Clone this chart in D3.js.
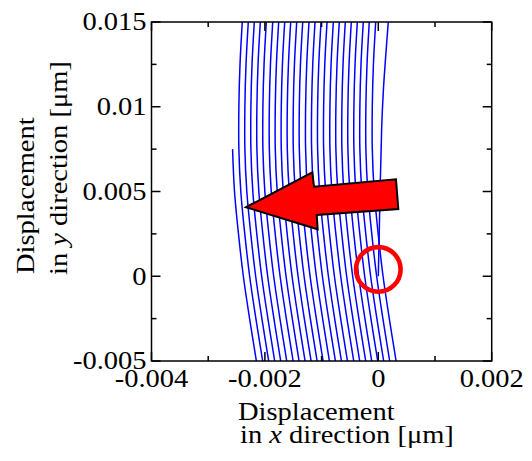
<!DOCTYPE html>
<html>
<head>
<meta charset="utf-8">
<script src="https://cdn.jsdelivr.net/npm/d3@7"></script>
<style>
  body{margin:0;background:#fff;}
  svg{display:block;}
  text{font-family:"Liberation Serif","Times New Roman",serif;fill:#000;}
</style>
</head>
<body>
<svg id="chart" width="532" height="461"></svg>
<script>
// axis ticks
var xTicks = [-0.004, -0.002, 0, 0.002];
var xTickLabels = ["-0.004", "-0.002", "0", "0.002"];
var xMinor = [-0.003, -0.001, 0.001];
var yTicks = [-0.005, 0, 0.005, 0.01, 0.015];
var yTickLabels = ["-0.005", "0", "0.005", "0.01", "0.015"];
var yMinor = [-0.0025, 0.0025, 0.0075, 0.0125];

// shape shared by the blue lines (x shift against y)
var profileY  = [0.015, 0.0125, 0.01, 0.0075, 0.005, 0.0025, 0, -0.0025, -0.005];
var profileDx = [0, -0.00004, -0.00006, -0.00006, -0.000026, 0.000044, 0.00013, 0.00024, 0.00036];

// x of each full line where it meets y = 0.015
var lineTopX = [-0.002399, -0.002293, -0.002187, -0.002081, -0.001975, -0.001862,
                -0.001757, -0.001651, -0.001545, -0.001439, -0.001333, -0.001222,
                -0.001116, -0.001010, -0.000904, -0.000793, -0.000688, -0.000582,
                -0.000476, -0.000370, -0.000265, -0.000159, -0.000046];

// leftmost line only starts at y = 0.0075
var partialTopX = -0.00251;
var partialFromY = 0.0075;

// line that ends at the origin
var startLineX = [0.000176, 0.00012, 0.00009, 0.00006, 0.0000176, 0];
var startLineY = [0.015, 0.0125, 0.011, 0.0088, 0.0027, 0];

// annotations (data coordinates)
var arrowX = [-0.002333, -0.001164, -0.001134, 0.000312, 0.000353, -0.001086, -0.001069];
var arrowY = [0.004071, 0.006136, 0.005286, 0.005723, 0.003968, 0.003614, 0.002770];
var circleCenter = [0, 0.0004];

var svg = d3.select("#chart");
var x = d3.scaleLinear().domain([-0.004, 0.002]).range([151.5, 491.7]);
var y = d3.scaleLinear().domain([-0.005, 0.015]).range([361, 22]);
var stretch = 1.14;   // glyphs in the picture are wider than Times

svg.append("clipPath").attr("id", "plotclip")
   .append("rect").attr("x", x(-0.004)).attr("y", y(0.015))
   .attr("width", x(0.002) - x(-0.004)).attr("height", y(-0.005) - y(0.015));

var plot = svg.append("g").attr("clip-path", "url(#plotclip)");

var line = d3.line()
    .x(function(d){ return x(d[0]); })
    .y(function(d){ return y(d[1]); })
    .curve(d3.curveCatmullRom);

var lines = lineTopX.map(function(x0){
    return profileY.map(function(yy, i){ return [x0 + profileDx[i], yy]; });
});
lines.push(profileY.map(function(yy, i){ return [partialTopX + profileDx[i], yy]; })
                   .filter(function(d){ return d[1] <= partialFromY; }));
lines.push(startLineY.map(function(yy, i){ return [startLineX[i], yy]; }));

plot.selectAll(".traj").data(lines).enter().append("path")
    .attr("class", "traj")
    .attr("d", line)
    .attr("fill", "none")
    .attr("stroke", "#0000ff")
    .attr("stroke-width", 1.5);

// ticks, drawn inward on all four sides
function ticks(vals, len){
    vals.forEach(function(v){
        svg.append("line").attr("x1", x(v)).attr("x2", x(v)).attr("y1", y(-0.005)).attr("y2", y(-0.005) - len);
        svg.append("line").attr("x1", x(v)).attr("x2", x(v)).attr("y1", y(0.015)).attr("y2", y(0.015) + len);
    });
}
function yticks(vals, len){
    vals.forEach(function(v){
        svg.append("line").attr("y1", y(v)).attr("y2", y(v)).attr("x1", x(-0.004)).attr("x2", x(-0.004) + len);
        svg.append("line").attr("y1", y(v)).attr("y2", y(v)).attr("x1", x(0.002)).attr("x2", x(0.002) - len);
    });
}
ticks(xTicks, 9); ticks(xMinor, 5);
yticks(yTicks, 9); yticks(yMinor, 5);
svg.selectAll("line").attr("stroke", "#000").attr("stroke-width", 1.5);

svg.append("rect")
   .attr("x", x(-0.004)).attr("y", y(0.015))
   .attr("width", x(0.002) - x(-0.004)).attr("height", y(-0.005) - y(0.015))
   .attr("fill", "none").attr("stroke", "#000").attr("stroke-width", 1.5);

// annotations
svg.append("polygon")
   .attr("points", arrowX.map(function(v, i){ return x(v) + "," + y(arrowY[i]); }).join(" "))
   .attr("fill", "#ff0000").attr("stroke", "#000").attr("stroke-width", 2)
   .attr("stroke-linejoin", "miter");

svg.append("circle")
   .attr("cx", x(circleCenter[0])).attr("cy", y(circleCenter[1])).attr("r", 22.3)
   .attr("fill", "none").attr("stroke", "#ff0000").attr("stroke-width", 4.6);

// text helper: stretched serif text
function label(tx, ty, rot, anchor){
    return svg.append("text")
        .attr("transform", "translate(" + tx + "," + ty + ")" + (rot ? " rotate(" + rot + ")" : "") + " scale(" + stretch + ",1)")
        .attr("text-anchor", anchor)
        .attr("font-size", 25);
}

yTicks.forEach(function(v, i){
    label(146.5, y(v) + 8.4, 0, "end").text(yTickLabels[i]);
});
xTicks.forEach(function(v, i){
    label(x(v), 386.5, 0, "middle").text(xTickLabels[i]);
});

// axis titles
label(238, 420, 0, "start").text("Displacement");
var xt = label(240, 443, 0, "start");
xt.append("tspan").text("in ");
xt.append("tspan").attr("font-style", "italic").text("x");
xt.append("tspan").text(" direction [μm]");

label(33.5, 274, -90, "start").text("Displacement");
var yt = label(67, 275, -90, "start");
yt.append("tspan").text("in ");
yt.append("tspan").attr("font-style", "italic").text("y");
yt.append("tspan").text(" direction [μm]");
</script>
</body>
</html>
